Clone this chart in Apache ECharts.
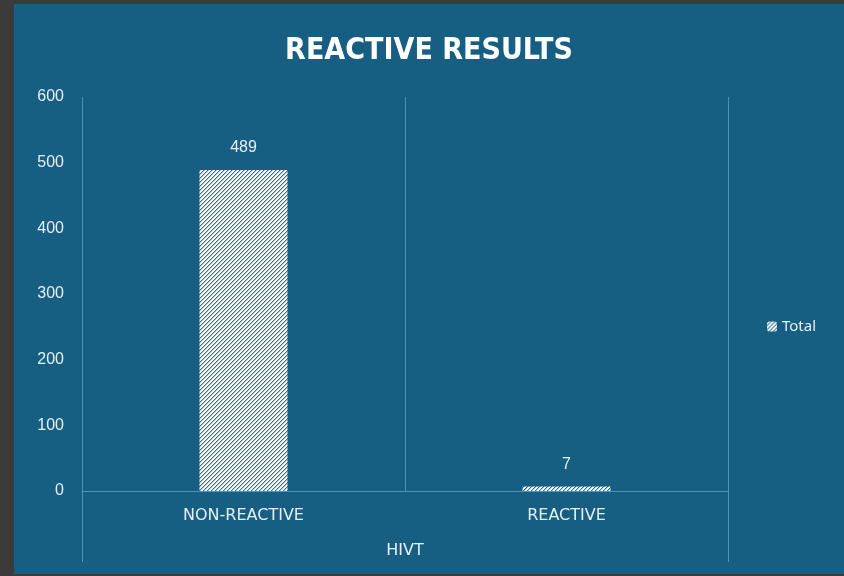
<!DOCTYPE html>
<html style="height: 100%">
<head>
<meta charset="utf-8">
<script src="https://cdn.jsdelivr.net/npm/echarts@6/dist/echarts.min.js"></script>
</head>
<body style="height: 100%; margin: 0; background: #3b3b3b">
<div id="container" style="position: absolute; left: 14px; top: 4px; width: 830px; height: 570px"></div>
<script type="text/javascript">
var categories = ['NON-REACTIVE', 'REACTIVE'];
var groupLabels = ['HIVT'];
var totals = [489, 7];
var yTicks = [0, 100, 200, 300, 400, 500, 600];

var bg = '#175f82';
var textColor = '#e6eef3';
var lineColor = '#4f93ba';

// hatched fill like the "wide upward diagonal" pattern
var tile = document.createElement('canvas');
tile.width = 4;
tile.height = 4;
var ctx = tile.getContext('2d');
ctx.fillStyle = '#ffffff';
ctx.fillRect(0, 0, 4, 4);
ctx.fillStyle = '#2f7296';
for (var i = 0; i < 4; i++) {
  ctx.fillRect(i, 3 - i, 1, 1);
}
ctx.fillStyle = '#a9c7d8';
for (var i = 0; i < 4; i++) {
  ctx.fillRect(i, (4 - i) % 4, 1, 1);
}

var dom = document.getElementById('container');
var myChart = echarts.init(dom);
var option = {
  backgroundColor: bg,
  animation: false,
  title: {
    text: 'REACTIVE RESULTS',
    left: 'center',
    top: 27,
    textStyle: {
      color: '#ffffff',
      fontFamily: "'DejaVu Sans Condensed', 'Roboto', sans-serif",
      fontWeight: 'bold',
      fontSize: 30
    }
  },
  legend: {
    orient: 'vertical',
    left: 748,
    top: 310,
    itemWidth: 10,
    itemHeight: 10,
    itemGap: 4,
    textStyle: { color: textColor, fontSize: 15, fontFamily: 'Noto Sans' },
    data: ['Total']
  },
  grid: { left: 68, right: 116, top: 93, bottom: 83 },
  xAxis: [{
    type: 'category',
    data: categories,
    axisLine: { lineStyle: { color: lineColor, width: 1 } },
    axisTick: { show: false },
    splitLine: { show: true, lineStyle: { color: lineColor, width: 1 } },
    axisLabel: {
      color: textColor,
      fontSize: 16,
      fontFamily: 'DejaVu Sans',
      margin: 17
    }
  }, {
    type: 'category',
    position: 'bottom',
    data: groupLabels,
    axisLine: { show: false },
    axisTick: { show: true, length: 71, lineStyle: { color: lineColor, width: 1 } },
    axisLabel: {
      color: textColor,
      fontSize: 16,
      fontFamily: 'DejaVu Sans',
      margin: 52
    }
  }],
  yAxis: {
    type: 'value',
    min: yTicks[0],
    max: yTicks[yTicks.length - 1],
    interval: 100,
    axisLine: { show: false },
    axisTick: { show: false },
    splitLine: { show: false },
    axisLabel: {
      color: textColor,
      fontSize: 16,
      fontFamily: 'Liberation Sans',
      margin: 18
    }
  },
  series: [{
    name: 'Total',
    type: 'bar',
    barWidth: 88,
    data: totals,
    itemStyle: { color: { image: tile, repeat: 'repeat' } },
    label: {
      show: true,
      position: 'top',
      distance: 14,
      color: textColor,
      fontSize: 16,
      fontFamily: 'Liberation Sans'
    }
  }]
};
myChart.setOption(option);
</script>
</body>
</html>
